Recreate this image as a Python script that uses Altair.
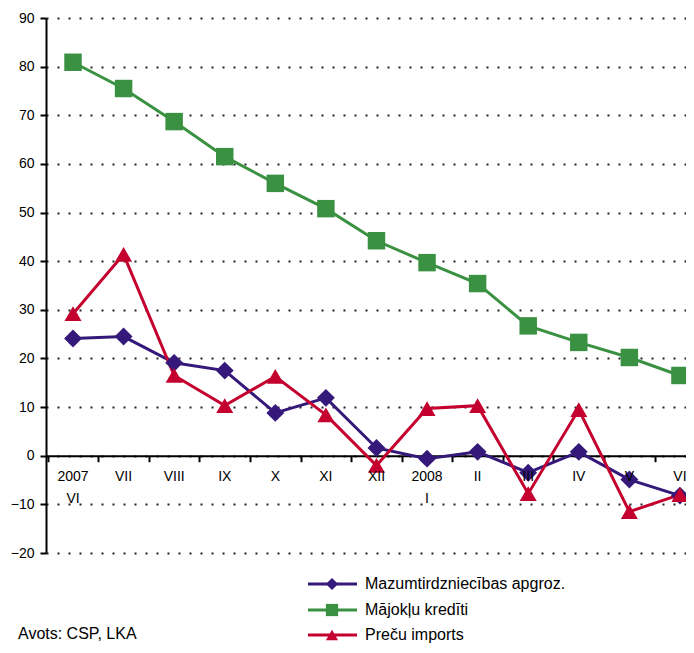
import altair as alt
import pandas as pd

months = ["2007\nVI", "VII", "VIII", "IX", "X", "XI", "XII", "2008\nI", "II", "III", "IV", "V", "VI"]
retail = [24.1, 24.5, 19.1, 17.5, 8.8, 11.9, 1.6, -0.6, 0.8, -3.5, 0.8, -4.9, -8.2]
credit = [80.9, 75.5, 68.7, 61.5, 56.0, 50.8, 44.2, 39.7, 35.4, 26.7, 23.3, 20.2, 16.5]
imports = [29.2, 41.4, 16.5, 10.3, 16.3, 8.4, -2.0, 9.7, 10.3, -7.8, 9.5, -11.5, -8.0]
series_names = ["Mazumtirdzniecības apgroz.", "Mājokļu kredīti", "Preču imports"]
colors = ["#35197A", "#3A9142", "#C4002F"]
shapes = ["diamond", "square", "triangle-up"]
y_ticks = list(range(-20, 100, 10))
source_text = "Avots: CSP, LKA"

FONT = "Liberation Sans"

rows = []
for name, vals in zip(series_names, [retail, credit, imports]):
    for i, v in enumerate(vals):
        rows.append({"idx": i, "month": months[i], "value": v, "series": name})
df = pd.DataFrame(rows)
mdf = pd.DataFrame({"idx": list(range(len(months))), "month": months})

x_enc = alt.X(
    "idx:Q",
    scale=alt.Scale(domain=[-0.534, 12.12], nice=False, zero=False),
    axis=alt.Axis(
        values=[i - 0.5 for i in range(len(months))],
        labels=False, title=None, grid=False, offset=-97.3,
        domainColor="black", domainWidth=2, tickColor="black",
        tickWidth=2, tickSize=6,
    ),
)
y_enc = alt.Y(
    "value:Q",
    scale=alt.Scale(domain=[-20, 90], nice=False, zero=False),
    axis=alt.Axis(
        values=y_ticks, title=None, grid=True, gridDash=[2, 9],
        gridColor="#222222", gridWidth=2, domainColor="black", domainWidth=2,
        tickColor="black", tickWidth=2, tickSize=6, labelFont=FONT,
        labelFontSize=14, labelColor="black", labelPadding=6,
    ),
)
color_enc = alt.Color("series:N", scale=alt.Scale(domain=series_names, range=colors), legend=None)

base = alt.Chart(df).encode(x=x_enc, y=y_enc, color=color_enc)
lines = base.mark_line(strokeWidth=3)
points = base.mark_point(filled=True, opacity=1).encode(
    shape=alt.Shape("series:N", scale=alt.Scale(domain=series_names, range=shapes), legend=None),
    size=alt.Size("series:N", scale=alt.Scale(domain=series_names, range=[320, 290, 320]), legend=None),
)

xlabels = alt.Chart(mdf).mark_text(
    lineBreak="\n", fontSize=14, font=FONT, baseline="top", color="black", lineHeight=22
).encode(x=alt.X("idx:Q"), y=alt.value(452), text="month:N")

layers = [lines, points, xlabels]

leg_y = [566, 592, 617]
for k, name in enumerate(series_names):
    ld = pd.DataFrame({"series": [name]})
    layers.append(alt.Chart(ld).mark_rule(strokeWidth=3, color=colors[k]).encode(
        x=alt.value(262), x2=alt.value(311), y=alt.value(leg_y[k])))
    layers.append(alt.Chart(ld).mark_point(filled=True, opacity=1, shape=shapes[k], size=150, color=colors[k]).encode(
        x=alt.value(286), y=alt.value(leg_y[k])))
    layers.append(alt.Chart(ld).mark_text(align="left", baseline="middle", fontSize=16, font=FONT, color="black").encode(
        x=alt.value(319), y=alt.value(leg_y[k]), text="series:N"))

src = alt.Chart(pd.DataFrame({"t": [source_text]})).mark_text(
    align="left", baseline="middle", fontSize=16, font=FONT, color="black"
).encode(x=alt.value(-28), y=alt.value(616), text="t:N")
layers.append(src)

chart = alt.layer(*layers).properties(
    width=640, height=535,
    autosize=alt.AutoSizeParams(type="none"),
    padding={"left": 38, "top": 10, "right": 0, "bottom": 92},
).configure_view(stroke=None)

chart.save("out.html", embed_options={"renderer": "svg", "actions": False})
